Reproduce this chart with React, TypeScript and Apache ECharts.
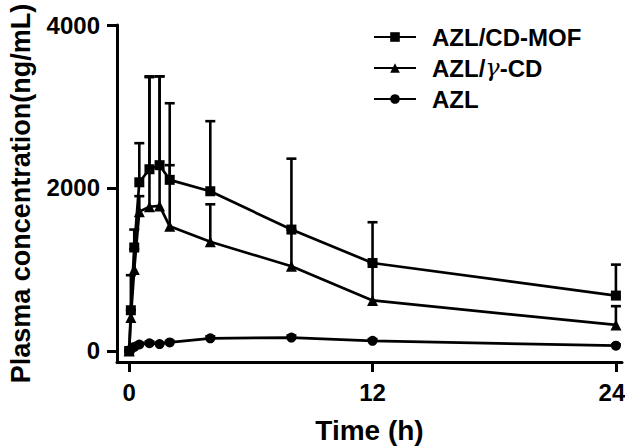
import React, { useEffect, useRef } from "react";
import * as echarts from "echarts";

const times = [0, 0.083, 0.25, 0.5, 1, 1.5, 2, 4, 8, 12, 24];
const mofMean = [0, 500, 1270, 2070, 2230, 2280, 2100, 1960, 1490, 1080, 680];
const mofSD = [0, 430, 220, 480, 1140, 1090, 940, 860, 870, 500, 380];
const cdMean = [0, 410, 1000, 1710, 1770, 1780, 1530, 1340, 1040, 620, 320];
const cdSD = [0, 90, 250, 190, 1590, 1590, 750, 460, 450, 460, 230];
const azlMean = [0, 20, 50, 80, 95, 85, 105, 155, 165, 125, 65];
const azlSD = [0, 10, 15, 20, 20, 20, 20, 25, 25, 20, 15];
const xTicks = [0, 12, 24];
const yTicks = [0, 2000, 4000];
const seriesNames = ["AZL/CD-MOF", "AZL/γ-CD", "AZL"];

const FONT = "Liberation Sans, Arial, sans-serif";

function pairs(ms: number[]) {
  return times.map((t, i) => [t, ms[i]]);
}
function triples(ms: number[], sd: number[]) {
  return times.map((t, i) => [t, ms[i], sd[i]]);
}

function errRender(params: any, api: any) {
  const x = api.value(0);
  const y = api.value(1);
  const sd = api.value(2);
  const p0 = api.coord([x, y]);
  const p1 = api.coord([x, y + sd]);
  const st = { stroke: "#000", lineWidth: 2.6 };
  return {
    type: "group",
    children: [
      { type: "line", shape: { x1: p0[0], y1: p0[1], x2: p1[0], y2: p1[1] }, style: st },
      { type: "line", shape: { x1: p1[0] - 5, y1: p1[1], x2: p1[0] + 5, y2: p1[1] }, style: st },
    ],
  };
}

export default function App() {
  const ref = useRef<HTMLDivElement>(null);
  useEffect(() => {
    document.body.style.margin = "0";
    if (!ref.current) return;
    const chart = echarts.init(ref.current, undefined, { renderer: "svg" });
    const lineSeries = (name: string, data: number[], symbol: string, size: number) => ({
      name,
      type: "line",
      data: pairs(data),
      symbol,
      symbolSize: size,
      showAllSymbol: true,
      itemStyle: { color: "#000" },
      lineStyle: { color: "#000", width: 2.7 },
      z: 3,
      clip: false,
    });
    const errSeries = (data: number[], sd: number[]) => ({
      type: "custom",
      renderItem: errRender,
      data: triples(data, sd),
      encode: { x: 0, y: 1 },
      z: 2,
      clip: false,
      silent: true,
    });
    const lastX = xTicks[xTicks.length - 1];
    chart.setOption({
      animation: false,
      backgroundColor: "#fff",
      textStyle: { fontFamily: FONT },
      grid: { left: 117, right: 3, top: 25, bottom: 86, containLabel: false, outerBoundsMode: "none" },
      legend: {
        data: seriesNames,
        orient: "vertical",
        left: 368,
        top: 20,
        itemWidth: 42,
        itemHeight: 12,
        itemGap: 7,
        formatter: (n: string) => (n === "AZL/γ-CD" ? "AZL/{g|γ}-CD" : n),
        textStyle: {
          fontFamily: FONT,
          fontWeight: "bold",
          fontSize: 24,
          color: "#000",
          lineHeight: 24,
          padding: [0, 0, 0, 11],
          rich: {
            g: {
              fontFamily: "DejaVu Serif, serif",
              fontStyle: "italic",
              fontWeight: "normal",
              fontSize: 24,
              color: "#000",
            },
          },
        },
      },
      xAxis: {
        type: "value",
        min: -0.6,
        max: 24.3,
        name: "Time (h)",
        nameLocation: "middle",
        nameGap: 54,
        nameTextStyle: { fontFamily: FONT, fontWeight: "bold", fontSize: 28, color: "#000" },
        axisLine: { show: true, onZero: false, lineStyle: { color: "#000", width: 3 } },
        axisTick: { show: true, customValues: xTicks, length: 10, lineStyle: { color: "#000", width: 3 } },
        axisLabel: {
          customValues: xTicks,
          margin: 18,
          fontFamily: FONT,
          fontWeight: "bold",
          fontSize: 24,
          color: "#000",
          formatter: (v: number) => (v === lastX ? "{r|" + v + "}" : String(v)),
          rich: {
            r: {
              fontFamily: FONT,
              fontWeight: "bold",
              fontSize: 24,
              color: "#000",
              padding: [0, 8, 0, 0],
            },
          },
        },
        splitLine: { show: false },
      },
      yAxis: {
        type: "value",
        min: -135,
        max: 4000,
        name: "Plasma concentration(ng/mL)",
        nameLocation: "middle",
        nameGap: 83,
        nameTextStyle: { fontFamily: FONT, fontWeight: "bold", fontSize: 27, color: "#000" },
        axisLine: { show: true, onZero: false, lineStyle: { color: "#000", width: 3 } },
        axisTick: { show: true, customValues: yTicks, length: 10, lineStyle: { color: "#000", width: 3 } },
        axisLabel: {
          customValues: yTicks,
          margin: 17,
          fontFamily: FONT,
          fontWeight: "bold",
          fontSize: 24,
          color: "#000",
          formatter: (v: number) => String(v),
        },
        splitLine: { show: false },
      },
      series: [
        errSeries(mofMean, mofSD),
        errSeries(cdMean, cdSD),
        errSeries(azlMean, azlSD),
        lineSeries(seriesNames[0], mofMean, "rect", 10),
        lineSeries(seriesNames[1], cdMean, "triangle", 11),
        lineSeries(seriesNames[2], azlMean, "circle", 10),
      ],
    });
    return () => chart.dispose();
  }, []);
  return <div ref={ref} style={{ width: 625, height: 448, overflow: "hidden" }} />;
}
